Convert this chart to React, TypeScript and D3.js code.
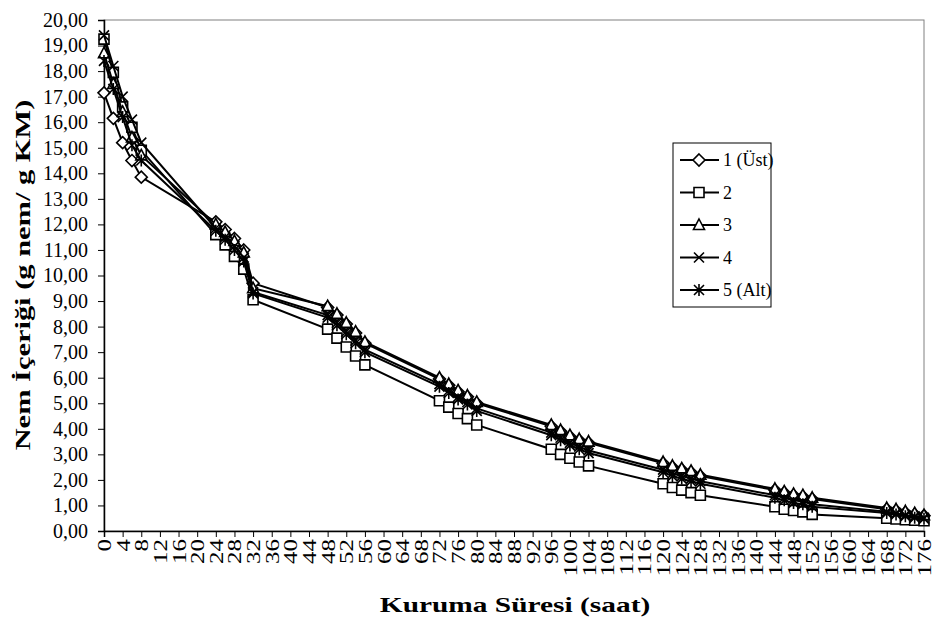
import { useEffect, useRef } from 'react';
import * as d3 from 'd3';

// drying time (saat)
const hours = [
  0, 2, 4, 6, 8, 24, 26, 28, 30, 32, 48, 50, 52, 54, 56, 72, 74, 76, 78, 80,
  96, 98, 100, 102, 104, 120, 122, 124, 126, 128, 144, 146, 148, 150, 152,
  168, 170, 172, 174, 176,
];

// moisture content per layer (g nem / g KM)
const layer1 = [
  17.15, 16.15, 15.2, 14.5, 13.85, 12.1, 11.8, 11.45, 11.0, 9.7, 8.75, 8.45, 8.1, 7.75, 7.35,
  5.95, 5.7, 5.45, 5.25, 5.0, 4.1, 3.9, 3.7, 3.55, 3.45, 2.65, 2.5, 2.4, 2.3, 2.15,
  1.6, 1.5, 1.4, 1.35, 1.25, 0.85, 0.8, 0.72, 0.65, 0.6,
];
const layer2 = [
  19.25, 17.95, 16.6, 15.8, 14.9, 11.6, 11.2, 10.75, 10.25, 9.05, 7.9, 7.55, 7.2, 6.85, 6.5,
  5.1, 4.85, 4.6, 4.4, 4.15, 3.2, 3.0, 2.85, 2.7, 2.55, 1.85, 1.7, 1.6, 1.5, 1.4,
  0.95, 0.85, 0.8, 0.75, 0.65, 0.5, 0.47, 0.44, 0.42, 0.4,
];
const layer3 = [
  18.7, 17.5, 16.4, 15.4, 14.7, 12.0, 11.7, 11.35, 10.9, 9.5, 8.8, 8.5, 8.15, 7.8, 7.4,
  6.0, 5.75, 5.5, 5.3, 5.05, 4.15, 3.95, 3.75, 3.6, 3.5, 2.7, 2.55, 2.45, 2.35, 2.2,
  1.65, 1.55, 1.45, 1.4, 1.3, 0.9, 0.85, 0.77, 0.7, 0.62,
];
const layer4 = [
  19.4, 18.2, 17.0, 16.1, 15.2, 11.85, 11.5, 11.15, 10.7, 9.35, 8.45, 8.15, 7.8, 7.45, 7.1,
  5.75, 5.5, 5.25, 5.05, 4.8, 3.85, 3.65, 3.45, 3.3, 3.15, 2.4, 2.25, 2.15, 2.05, 1.95,
  1.4, 1.3, 1.2, 1.15, 1.05, 0.75, 0.7, 0.62, 0.57, 0.52,
];
const layer5 = [
  18.4, 17.3, 16.2, 15.1, 14.5, 11.75, 11.4, 11.0, 10.55, 9.3, 8.35, 8.05, 7.7, 7.35, 7.0,
  5.65, 5.4, 5.15, 4.95, 4.7, 3.75, 3.55, 3.35, 3.2, 3.05, 2.3, 2.15, 2.05, 1.95, 1.85,
  1.3, 1.2, 1.1, 1.05, 0.95, 0.7, 0.65, 0.58, 0.52, 0.48,
];

const seriesNames = ['1 (Üst)', '2', '3', '4', '5 (Alt)'];
const seriesValues = [layer1, layer2, layer3, layer4, layer5];
const markerKinds = ['diamond', 'square', 'triangle', 'x', 'star'];

const xTicks = d3.range(0, 177, 4);
const yTicks = d3.range(0, 21, 1);

const W = 933;
const H = 622;
const margin = { top: 20, right: 9, bottom: 91, left: 104 };
const FONT = '"Liberation Serif", "Times New Roman", serif';

const trLocale = d3.formatLocale({ decimal: ',', thousands: '.', grouping: [3], currency: ['', ''] });
const fmtY = trLocale.format('.2f');

function markerPath(kind: string) {
  switch (kind) {
    case 'diamond':
      return 'M0,-6L6,0L0,6L-6,0Z';
    case 'square':
      return 'M-5,-5L5,-5L5,5L-5,5Z';
    case 'triangle':
      return 'M0,-6L5.5,4.5L-5.5,4.5Z';
    case 'x':
      return 'M-5,-5L5,5M-5,5L5,-5';
    default:
      return 'M-5,-5L5,5M-5,5L5,-5M0,-6L0,6';
  }
}

export default function App() {
  const ref = useRef<SVGSVGElement>(null);

  useEffect(() => {
    const svg = d3.select(ref.current);
    svg.selectAll('*').remove();

    const x = d3.scaleLinear().domain([0, 176]).range([margin.left, W - margin.right]);
    const y = d3.scaleLinear().domain([0, 20]).range([H - margin.bottom, margin.top]);

    // plot frame
    svg
      .append('rect')
      .attr('x', margin.left)
      .attr('y', margin.top)
      .attr('width', W - margin.right - margin.left)
      .attr('height', H - margin.bottom - margin.top)
      .attr('fill', 'none')
      .attr('stroke', '#808080')
      .attr('stroke-width', 1);

    // y axis
    const gy = svg
      .append('g')
      .attr('transform', `translate(${margin.left},0)`)
      .call(d3.axisLeft(y).tickValues(yTicks).tickSize(6).tickPadding(10).tickFormat((d) => fmtY(d as number)));
    gy.select('.domain').attr('stroke', '#000').attr('stroke-width', 1.5);
    gy.selectAll('line').attr('stroke', '#000');
    gy.selectAll('text').attr('font-family', FONT).attr('font-size', 20).attr('fill', '#000');

    // x axis, labels turned upward
    const gx = svg
      .append('g')
      .attr('transform', `translate(0,${H - margin.bottom})`)
      .call(d3.axisBottom(x).tickValues(xTicks).tickSize(6).tickFormat((d) => String(d)));
    gx.select('.domain').attr('stroke', '#000').attr('stroke-width', 1.5);
    gx.selectAll('line').attr('stroke', '#000');
    gx.selectAll('text')
      .attr('font-family', FONT)
      .attr('font-size', 18.5)
      .attr('fill', '#000')
      .attr('text-anchor', 'end')
      .attr('dy', '0.35em')
      .attr('transform', 'translate(0,8) rotate(-90) scale(1.35,1)')
      .attr('x', 0)
      .attr('y', 0);

    // series
    const line = d3
      .line<number>()
      .x((_, i) => x(hours[i]))
      .y((d) => y(d));

    seriesValues.forEach((vals, s) => {
      const g = svg.append('g');
      g.append('path')
        .datum(vals)
        .attr('d', line)
        .attr('fill', 'none')
        .attr('stroke', '#000')
        .attr('stroke-width', 2);
      g.selectAll('path.m')
        .data(vals)
        .join('path')
        .attr('class', 'm')
        .attr('transform', (d, i) => `translate(${x(hours[i])},${y(d)})`)
        .attr('d', markerPath(markerKinds[s]))
        .attr('fill', '#fff')
        .attr('stroke', '#000')
        .attr('stroke-width', 1.6);
    });

    // axis titles
    svg
      .append('text')
      .attr('transform', 'translate(515,612) scale(1.4,1)')
      .attr('text-anchor', 'middle')
      .attr('font-family', FONT)
      .attr('font-weight', 'bold')
      .attr('font-size', 21)
      .text('Kuruma Süresi (saat)');
    svg
      .append('text')
      .attr('transform', 'translate(30,275) rotate(-90) scale(1.45,1)')
      .attr('text-anchor', 'middle')
      .attr('font-family', FONT)
      .attr('font-weight', 'bold')
      .attr('font-size', 21)
      .text('Nem İçeriği (g nem/ g KM)');

    // legend
    const lg = svg.append('g').attr('transform', 'translate(673,143)');
    lg.append('rect')
      .attr('width', 98)
      .attr('height', 164)
      .attr('fill', '#fff')
      .attr('stroke', '#000')
      .attr('stroke-width', 1);
    seriesNames.forEach((name, s) => {
      const cy = 17 + s * 32.5;
      lg.append('line').attr('x1', 7).attr('x2', 46).attr('y1', cy).attr('y2', cy).attr('stroke', '#000').attr('stroke-width', 2);
      lg.append('path')
        .attr('transform', `translate(26,${cy})`)
        .attr('d', markerPath(markerKinds[s]))
        .attr('fill', '#fff')
        .attr('stroke', '#000')
        .attr('stroke-width', 1.6);
      lg.append('text')
        .attr('x', 50)
        .attr('y', cy)
        .attr('dy', '0.35em')
        .attr('font-family', FONT)
        .attr('font-size', 18)
        .text(name);
    });
  }, []);

  return <svg ref={ref} width={W} height={H} style={{ position: 'absolute', left: 0, top: 0, background: '#fff' }} />;
}
